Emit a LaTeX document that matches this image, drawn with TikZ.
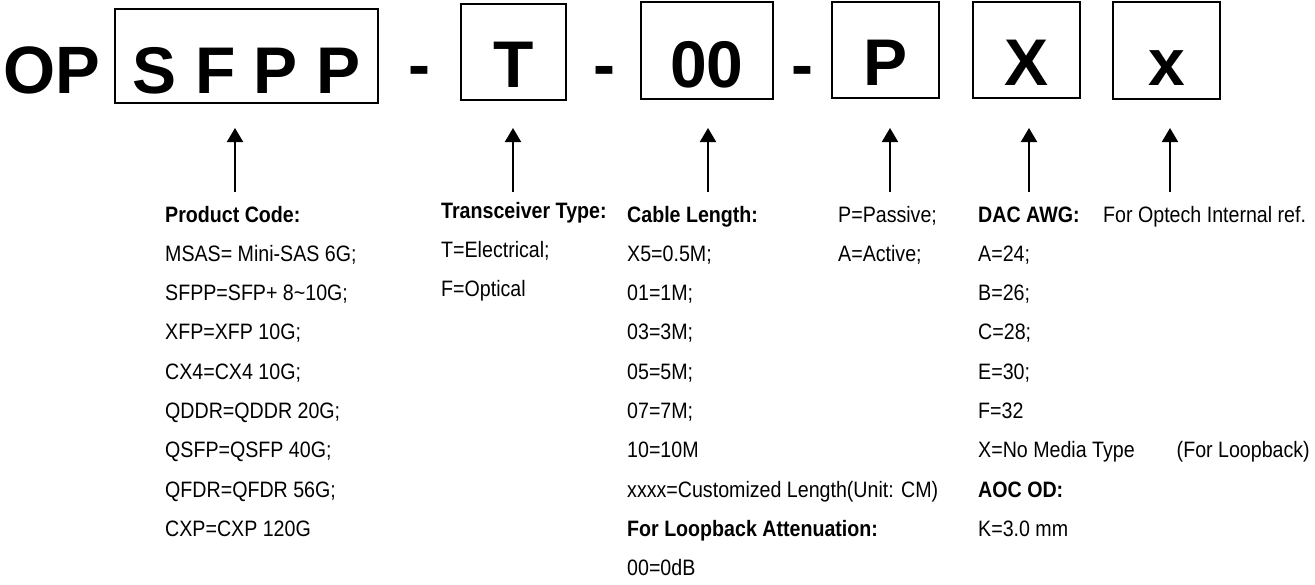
\documentclass[tikz,border=0pt]{standalone}
\usepackage{fontspec}
\setmainfont{Liberation Sans}
\newfontfamily\narrowsans[FakeStretch=0.88]{Liberation Sans}
\usetikzlibrary{arrows.meta}
\begin{document}
\begin{tikzpicture}[x=1pt,y=-1pt,
  codebox/.style={draw, line width=1.8pt, inner sep=0pt},
  big/.style={font=\fontsize{66}{70}\selectfont\bfseries, anchor=base, inner sep=0pt},
  lbl/.style={font=\narrowsans\fontsize{22.3}{26}\selectfont, anchor=base west, inner sep=0pt},
  hd/.style={lbl, font=\narrowsans\fontsize{22.3}{26}\selectfont\bfseries},
  arr/.style={line width=2pt, -{Triangle[width=16pt,length=14pt]}}]
\useasboundingbox (0,0) rectangle (1315,584);
% header
\node[big, font=\fontsize{67}{70}\selectfont\bfseries] (op) at (52,93) {OP};
\node[codebox, minimum width=263pt, minimum height=94pt] (b1) at (246.5,56) {};
\node[big] (t1) at (246.5,93) {S F P P};
\node[big] (d1) at (419.5,87) {-};
\node[codebox, minimum width=105pt, minimum height=96pt] (b2) at (513.5,52) {};
\node[big] (t2) at (513.5,87) {T};
\node[big] (d2) at (604,87) {-};
\node[codebox, minimum width=132pt, minimum height=97pt] (b3) at (707,50.5) {};
\node[big] (t3) at (707,87) {00};
\node[big] (d3) at (802,87) {-};
\node[codebox, minimum width=107pt, minimum height=96pt] (b4) at (885.5,50) {};
\node[big] (t4) at (885.5,85) {P};
\node[codebox, minimum width=107pt, minimum height=96pt] (b5) at (1026.5,50) {};
\node[big] (t5) at (1026.5,85) {X};
\node[codebox, minimum width=107pt, minimum height=97pt] (b6) at (1166.5,50.5) {};
\node[big] (t6) at (1166.5,85) {x};
% arrows
\foreach \n/\x in {1/235,2/513,3/708,4/890,5/1029,6/1170}{
  \coordinate (s\n) at (\x,192);
  \coordinate (e\n) at (\x,128);
  \draw[arr] (s\n) -- (e\n);
}
% column 1
\node[hd]  (c1h) at (165,222)   {Product Code:};
\node[lbl] (c1a) at (165,261.3) {MSAS= Mini-SAS 6G;};
\node[lbl] (c1b) at (165,300.6) {SFPP=SFP+ 8\textasciitilde10G;};
\node[lbl] (c1c) at (165,339.9) {XFP=XFP 10G;};
\node[lbl] (c1d) at (165,379.2) {CX4=CX4 10G;};
\node[lbl] (c1e) at (165,418.5) {QDDR=QDDR 20G;};
\node[lbl] (c1f) at (165,457.8) {QSFP=QSFP 40G;};
\node[lbl] (c1g) at (165,497.1) {QFDR=QFDR 56G;};
\node[lbl] (c1h2) at (165,536.4) {CXP=CXP 120G};
% column 2
\node[hd]  (c2h) at (441,218)   {Transceiver Type:};
\node[lbl] (c2a) at (441,257.3) {T=Electrical;};
\node[lbl] (c2b) at (441,296.6) {F=Optical};
% column 3
\node[hd]  (c3h) at (627,222)   {Cable Length:};
\node[lbl] (c3a) at (627,261.3) {X5=0.5M;};
\node[lbl] (c3b) at (627,300.6) {01=1M;};
\node[lbl] (c3c) at (627,339.9) {03=3M;};
\node[lbl] (c3d) at (627,379.2) {05=5M;};
\node[lbl] (c3e) at (627,418.5) {07=7M;};
\node[lbl] (c3f) at (627,457.8) {10=10M};
\node[lbl] (c3g) at (627,497.1) {xxxx=Customized Length(Unit: CM)};
\node[hd]  (c3i) at (627,536.4) {For Loopback Attenuation:};
\node[lbl] (c3j) at (627,575.7) {00=0dB};
% column 4
\node[lbl] (c4a) at (838,222)   {P=Passive;};
\node[lbl] (c4b) at (838,261.3) {A=Active;};
% column 5
\node[hd]  (c5h) at (978,222)   {DAC AWG:};
\node[lbl] (c6h) at (1103,222)  {For Optech Internal ref.};
\node[lbl] (c5a) at (978,261.3) {A=24;};
\node[lbl] (c5b) at (978,300.6) {B=26;};
\node[lbl] (c5c) at (978,339.9) {C=28;};
\node[lbl] (c5d) at (978,379.2) {E=30;};
\node[lbl] (c5e) at (978,418.5) {F=32};
\node[lbl] (c5f) at (978,457.8) {X=No Media Type};
\node[lbl, anchor=base east] (c5g) at (1310,457.8) {(For Loopback)};
\node[hd]  (c5i) at (978,497.1) {AOC OD:};
\node[lbl] (c5j) at (978,536.4) {K=3.0 mm};
\end{tikzpicture}
\end{document}
